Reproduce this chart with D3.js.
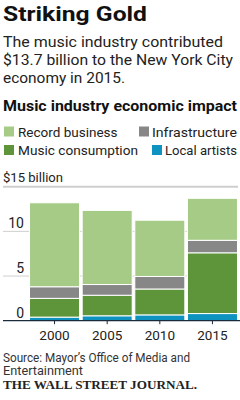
<!DOCTYPE html>
<html>
<head>
<meta charset="utf-8">
<script src="https://cdn.jsdelivr.net/npm/d3@7"></script>
<style>
  body { margin: 0; background: #fff; }
  svg { display: block; }
</style>
</head>
<body>
<script>
// datos (miles de millones de dolares)
var years = ["2000", "2005", "2010", "2015"];
var localArtists = [0.4, 0.55, 0.65, 0.8];
var musicConsumption = [2.1, 2.3, 2.9, 6.8];
var infrastructure = [1.3, 1.2, 1.4, 1.4];
var recordBusiness = [9.4, 8.3, 6.3, 4.7];
var yTicks = [0, 5, 10, 15];

var series = [
  {key: "Local artists", values: localArtists, color: "#0e93c0"},
  {key: "Music consumption", values: musicConsumption, color: "#5e943a"},
  {key: "Infrastructure", values: infrastructure, color: "#878787"},
  {key: "Record business", values: recordBusiness, color: "#a6cb87"}
];

var width = 240, height = 400;
var font = "Roboto, 'Noto Sans', sans-serif";

var svg = d3.select("body").append("svg")
  .attr("width", width)
  .attr("height", height)
  .attr("font-family", font);

// la fuente original es estrecha: se ajusta el texto al ancho que ocupa en el original
function fit(sel, w) {
  sel.each(function() {
    var n = this.getComputedTextLength();
    if (Math.abs(n - w) > 1) {
      d3.select(this).attr("textLength", w).attr("lengthAdjust", "spacingAndGlyphs");
    }
  });
  return sel;
}

// titulos
fit(svg.append("text")
  .attr("x", 3).attr("y", 21)
  .attr("font-size", 21).attr("font-weight", "bold")
  .attr("fill", "#111")
  .text("Striking Gold"), 144);

var sub = ["The music industry contributed", "$13.7 billion to the New York City", "economy in 2015."];
var subW = [220, 230, 122];
svg.append("g").selectAll("text")
  .data(sub)
  .join("text")
    .attr("x", 3)
    .attr("y", (d, i) => 47 + i * 18)
    .attr("font-size", 15)
    .attr("fill", "#222")
    .text(d => d)
    .each(function(d, i) { fit(d3.select(this), subW[i]); });

fit(svg.append("text")
  .attr("x", 3).attr("y", 111)
  .attr("font-size", 15).attr("font-weight", "bold")
  .attr("fill", "#111")
  .text("Music industry economic impact"), 234);

// leyenda: primera columna a la izquierda, segunda alineada a la derecha
var legendRows = [
  [series[3], series[2]],
  [series[1], series[0]]
];
var legendW = [[99, 85], [120, 72]];
legendRows.forEach(function(row, r) {
  var cy = 131.5 + r * 18.5;
  var left = svg.append("g");
  left.append("rect").attr("x", 4).attr("y", cy - 5).attr("width", 10).attr("height", 10).attr("fill", row[0].color);
  fit(left.append("text").attr("x", 18).attr("y", cy + 5).attr("font-size", 13.5).attr("fill", "#222").text(row[0].key), legendW[r][0]);

  var right = svg.append("g");
  var w = legendW[r][1];
  fit(right.append("text").attr("x", 237 - w).attr("y", cy + 5).attr("font-size", 13.5)
    .attr("fill", "#222").text(row[1].key), w);
  right.append("rect").attr("x", 237 - w - 13).attr("y", cy - 5).attr("width", 10).attr("height", 10).attr("fill", row[1].color);
});

// escalas
var x = d3.scaleBand().domain(years).range([29, 238]).paddingInner(0.05).paddingOuter(0.01);
var y = d3.scaleLinear().domain([0, 15]).range([320.7, 186.7]);

// rejilla
svg.append("g").selectAll("line")
  .data(yTicks.filter(d => d > 0))
  .join("line")
    .attr("x1", 3).attr("x2", 238)
    .attr("y1", d => y(d)).attr("y2", d => y(d))
    .attr("stroke", "#cfcfcf")
    .attr("stroke-width", d => d === 15 ? 2 : 1);

fit(svg.append("text")
  .attr("x", 3).attr("y", 182)
  .attr("font-size", 13.5).attr("fill", "#222")
  .text("$15 billion"), 60);

svg.append("g").selectAll("text")
  .data(yTicks.filter(d => d < 15))
  .join("text")
    .attr("x", 24)
    .attr("y", d => y(d) - 3)
    .attr("text-anchor", "end")
    .attr("font-size", 14)
    .attr("fill", "#222")
    .text(d => d);

// barras apiladas
var table = years.map(function(yr, i) {
  var o = {year: yr};
  series.forEach(s => o[s.key] = s.values[i]);
  return o;
});
var stack = d3.stack().keys(series.map(s => s.key))(table);

svg.append("g").selectAll("g")
  .data(stack)
  .join("g")
    .attr("fill", (d, i) => series[i].color)
  .selectAll("rect")
  .data(d => d)
  .join("rect")
    .attr("x", d => x(d.data.year))
    .attr("y", d => y(d[1]))
    .attr("width", x.bandwidth())
    .attr("height", d => y(d[0]) - y(d[1]))
    .attr("stroke", "#fff")
    .attr("stroke-width", 1);

// eje x
svg.append("line")
  .attr("x1", 3).attr("x2", 240)
  .attr("y1", y(0)).attr("y2", y(0))
  .attr("stroke", "#1c2b3c").attr("stroke-width", 1.3);

svg.append("g").selectAll("line")
  .data(years)
  .join("line")
    .attr("x1", d => x(d) + x.bandwidth() / 2)
    .attr("x2", d => x(d) + x.bandwidth() / 2)
    .attr("y1", y(0)).attr("y2", y(0) + 3.5)
    .attr("stroke", "#1c2b3c");

svg.append("g").selectAll("text")
  .data(years)
  .join("text")
    .attr("x", d => x(d) + x.bandwidth() / 2)
    .attr("y", 339.5)
    .attr("text-anchor", "middle")
    .attr("font-size", 13.5)
    .attr("fill", "#222")
    .text(d => d);

// fuente
var src = ["Source: Mayor\u2019s Office of Media and", "Entertainment"];
var srcW = [187, 80];
svg.append("g").selectAll("text")
  .data(src)
  .join("text")
    .attr("x", 3)
    .attr("y", (d, i) => 362 + i * 12.5)
    .attr("font-size", 12)
    .attr("fill", "#333")
    .text(d => d)
    .each(function(d, i) { fit(d3.select(this), srcW[i]); });

fit(svg.append("text")
  .attr("x", 3).attr("y", 389)
  .attr("font-family", "'Liberation Serif', 'DejaVu Serif', serif")
  .attr("font-size", 13).attr("font-weight", "bold")
  .attr("fill", "#222")
  .text("THE WALL STREET JOURNAL."), 194);
</script>
</body>
</html>
